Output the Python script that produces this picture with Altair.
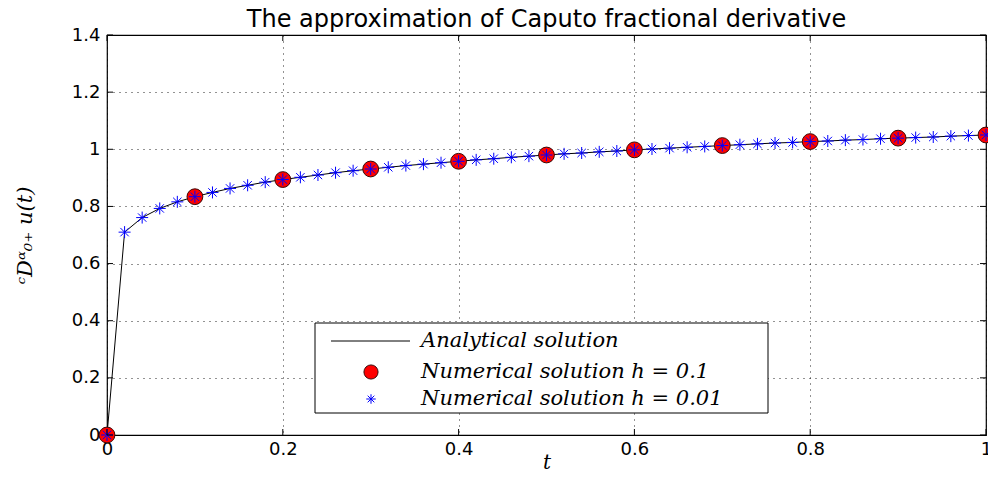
import altair as alt
import pandas as pd

# ---- data ----
t_fine = [0.00, 0.02, 0.04, 0.06, 0.08, 0.10, 0.12, 0.14, 0.16, 0.18,
          0.20, 0.22, 0.24, 0.26, 0.28, 0.30, 0.32, 0.34, 0.36, 0.38,
          0.40, 0.42, 0.44, 0.46, 0.48, 0.50, 0.52, 0.54, 0.56, 0.58,
          0.60, 0.62, 0.64, 0.66, 0.68, 0.70, 0.72, 0.74, 0.76, 0.78,
          0.80, 0.82, 0.84, 0.86, 0.88, 0.90, 0.92, 0.94, 0.96, 0.98, 1.00]
u_analytic = [0.000, 0.710, 0.761, 0.793, 0.816, 0.834, 0.849, 0.863, 0.874, 0.885,
              0.894, 0.902, 0.910, 0.918, 0.925, 0.931, 0.937, 0.943, 0.948, 0.953,
              0.958, 0.963, 0.967, 0.972, 0.976, 0.980, 0.984, 0.987, 0.991, 0.994,
              0.998, 1.001, 1.004, 1.007, 1.010, 1.013, 1.016, 1.019, 1.022, 1.024,
              1.027, 1.029, 1.032, 1.034, 1.037, 1.039, 1.041, 1.043, 1.046, 1.048, 1.050]
u_h001 = [0.000, 0.710, 0.761, 0.793, 0.816, 0.834, 0.849, 0.863, 0.874, 0.885,
          0.894, 0.902, 0.910, 0.918, 0.925, 0.931, 0.937, 0.943, 0.948, 0.953,
          0.958, 0.963, 0.967, 0.972, 0.976, 0.980, 0.984, 0.987, 0.991, 0.994,
          0.998, 1.001, 1.004, 1.007, 1.010, 1.013, 1.016, 1.019, 1.022, 1.024,
          1.027, 1.029, 1.032, 1.034, 1.037, 1.039, 1.041, 1.043, 1.046, 1.048, 1.050]
t_coarse = [0.0, 0.1, 0.2, 0.3, 0.4, 0.5, 0.6, 0.7, 0.8, 0.9, 1.0]
u_h01 = [0.000, 0.834, 0.894, 0.931, 0.958, 0.980, 0.998, 1.013, 1.027, 1.039, 1.050]

x_ticks = [0, 0.2, 0.4, 0.6, 0.8, 1]
y_ticks = [0, 0.2, 0.4, 0.6, 0.8, 1, 1.2, 1.4]
legend_labels = ["Analytical solution", "Numerical solution h = 0.1",
                 "Numerical solution h = 0.01"]
title_text = "The approximation of Caputo fractional derivative"
y_title = "ᶜDᵅ₀₊ u(t)"
x_title = "t"

df_fine = pd.DataFrame({"t": t_fine, "u": u_analytic, "u2": u_h001})
df_coarse = pd.DataFrame({"t": t_coarse, "u": u_h01})
df_xt = pd.DataFrame({"x": x_ticks})
df_yt = pd.DataFrame({"y": y_ticks})

W, H = 879, 400
xs = alt.Scale(domain=[0, 1], nice=False, zero=False)
ys = alt.Scale(domain=[0, 1.4], nice=False, zero=False)

tick_len_y = 6 / H * 1.4
tick_len_x = 6 / W

LABEL_FONT = "DejaVu Sans"
SERIF = "DejaVu Serif"

base = alt.Chart(df_fine)

line = base.mark_line(color="black", strokeWidth=1).encode(
    x=alt.X("t:Q", scale=xs,
            axis=alt.Axis(values=x_ticks, format="~g", title=x_title,
                          titleFont=SERIF, titleFontStyle="italic",
                          titleFontWeight="normal", titleFontSize=20,
                          titleY=27, titleBaseline="middle",
                          labelFlush=False, labelOverlap=False,
                          labelPadding=5)),
    y=alt.Y("u:Q", scale=ys,
            axis=alt.Axis(values=y_ticks, format="~g", title=y_title,
                          titleFont=SERIF, titleFontStyle="italic",
                          titleFontWeight="normal", titleFontSize=21,
                          titleX=-82, titleY=H / 2, titleAngle=270,
                          titleBaseline="middle", titleAlign="center",
                          labelPadding=7)),
)

circles = alt.Chart(df_coarse).mark_point(
    shape="circle", filled=True, fill="#ff0000", stroke="#3a0a0a",
    strokeWidth=1, size=250, opacity=1
).encode(x=alt.X("t:Q", scale=xs), y=alt.Y("u:Q", scale=ys))

STAR = "M-1,0L1,0M0,-1L0,1M-0.7,-0.7L0.7,0.7M-0.7,0.7L0.7,-0.7"
stars = base.mark_point(
    shape=STAR, filled=False, stroke="#0000ff", strokeWidth=1, size=144,
    opacity=1
).encode(x=alt.X("t:Q", scale=xs), y=alt.Y("u2:Q", scale=ys))

# inward ticks on the box
tb = alt.Chart(df_xt).mark_rule(color="black", strokeWidth=1).encode(
    x=alt.X("x:Q", scale=xs), y=alt.Y("y0:Q", scale=ys), y2="y1:Q"
).transform_calculate(y0="0", y1=str(tick_len_y))
tt = alt.Chart(df_xt).mark_rule(color="black", strokeWidth=1).encode(
    x=alt.X("x:Q", scale=xs), y=alt.Y("y0:Q", scale=ys), y2="y1:Q"
).transform_calculate(y0="1.4", y1=str(1.4 - tick_len_y))
tl = alt.Chart(df_yt).mark_rule(color="black", strokeWidth=1).encode(
    y=alt.Y("y:Q", scale=ys), x=alt.X("x0:Q", scale=xs), x2="x1:Q"
).transform_calculate(x0="0", x1=str(tick_len_x))
tr = alt.Chart(df_yt).mark_rule(color="black", strokeWidth=1).encode(
    y=alt.Y("y:Q", scale=ys), x=alt.X("x0:Q", scale=xs), x2="x1:Q"
).transform_calculate(x0="1", x1=str(1 - tick_len_x))

# legend box (pixel positions within the plot area)
one = pd.DataFrame({"k": [0]})
lg_box = alt.Chart(one).mark_rect(fill="white", stroke="black", strokeWidth=1).encode(
    x=alt.value(208), x2=alt.value(661), y=alt.value(288), y2=alt.value(378))
lg_line = alt.Chart(one).mark_rule(color="black", strokeWidth=1).encode(
    x=alt.value(224), x2=alt.value(303), y=alt.value(306))
lg_circ = alt.Chart(one).mark_point(
    shape="circle", filled=True, fill="#ff0000", stroke="#3a0a0a",
    strokeWidth=1, size=200, opacity=1).encode(x=alt.value(264), y=alt.value(337))
lg_star = alt.Chart(one).mark_point(
    shape=STAR, filled=False, stroke="#0000ff", strokeWidth=1, size=90,
    opacity=1).encode(x=alt.value(264), y=alt.value(364))
lg_texts = []
for lbl, yy in zip(legend_labels, [306, 337, 364]):
    lg_texts.append(
        alt.Chart(one).mark_text(
            align="left", baseline="middle", font=SERIF, fontStyle="italic",
            fontSize=21, color="black"
        ).encode(x=alt.value(314), y=alt.value(yy), text=alt.value(lbl))
    )

chart = alt.layer(
    line, circles, stars, tb, tt, tl, tr, lg_box, lg_line, lg_circ, lg_star, *lg_texts
).properties(
    width=W, height=H,
    autosize=alt.AutoSizeParams(type="none"),
    padding={"left": 107, "top": 35, "right": 2, "bottom": 43},
    title=alt.TitleParams(title_text, font=LABEL_FONT, fontSize=24,
                          fontWeight="normal", anchor="middle", offset=0,
                          dy=6, color="black"),
).configure(
    background="white",
).configure_view(
    stroke="black", strokeWidth=1.2
).configure_axis(
    grid=True, gridColor="black", gridDash=[1, 5], gridOpacity=0.85,
    gridWidth=1, domain=False, ticks=False,
    labelFont=LABEL_FONT, labelFontSize=18, labelColor="black",
    titleColor="black"
)

chart.save("out.html", embed_options={"renderer": "svg", "actions": False})
